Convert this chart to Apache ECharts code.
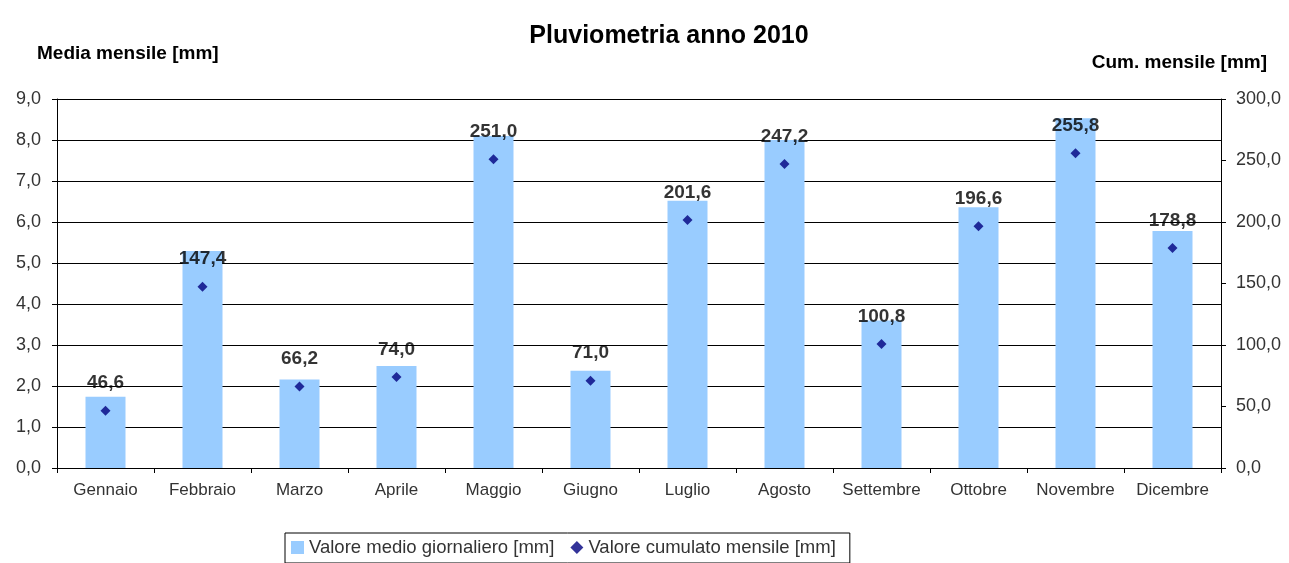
<!DOCTYPE html>
<html>
<head>
<meta charset="utf-8">
<script src="https://cdn.jsdelivr.net/npm/echarts@6/dist/echarts.min.js"></script>
<style>html,body{margin:0;padding:0;background:#fff}#c{width:1289px;height:563px}</style>
</head>
<body>
<div id="c"></div>
<script>
const months = ['Gennaio','Febbraio','Marzo','Aprile','Maggio','Giugno','Luglio','Agosto','Settembre','Ottobre','Novembre','Dicembre'];
const dailyMean = [1.74, 5.29, 2.16, 2.49, 8.10, 2.37, 6.52, 8.00, 3.60, 6.36, 8.53, 5.78];
const monthlyCum = [46.6, 147.4, 66.2, 74.0, 251.0, 71.0, 201.6, 247.2, 100.8, 196.6, 255.8, 178.8];

const fmt = v => Number(v).toFixed(1).replace('.', ',');
const font = '"Liberation Sans", Arial, sans-serif';

const chart = echarts.init(document.getElementById('c'), null, {renderer: 'canvas'});
chart.setOption({
  animation: false,
  textStyle: {fontFamily: font},
  title: [
    {text: 'Pluviometria anno 2010', left: 664, textAlign: 'center', top: 19,
     textStyle: {fontFamily: font, fontSize: 25, fontWeight: 'bold', color: '#000'}},
    {text: 'Media mensile [mm]', left: 32, top: 39,
     textStyle: {fontFamily: font, fontSize: 19, fontWeight: 'bold', color: '#000'}},
    {text: 'Cum. mensile [mm]', right: 17, top: 48,
     textStyle: {fontFamily: font, fontSize: 19, fontWeight: 'bold', color: '#000'}}
  ],
  legend: {
    left: 285, top: 533,
    borderColor: '#000', borderWidth: 1, borderRadius: 0,
    padding: [5, 14, 6, 6],
    itemGap: 16, itemWidth: 13, itemHeight: 13,
    textStyle: {fontFamily: font, fontSize: 18.5, color: '#333'},
    data: [
      {name: 'Valore medio giornaliero [mm]', icon: 'rect'},
      {name: 'Valore cumulato mensile [mm]', icon: 'diamond'}
    ]
  },
  grid: {left: 57, right: 68, top: 99, bottom: 95},
  xAxis: {
    type: 'category', data: months, boundaryGap: true,
    axisLine: {lineStyle: {color: '#000', width: 1}},
    axisTick: {show: true, length: 5, lineStyle: {color: '#000'}},
    axisLabel: {fontFamily: font, fontSize: 17, color: '#333', margin: 14, interval: 0}
  },
  yAxis: [
    {type: 'value', min: 0, max: 9, interval: 1,
     axisLine: {show: true, lineStyle: {color: '#000'}},
     axisTick: {show: true, length: 5, lineStyle: {color: '#000'}},
     axisLabel: {fontFamily: font, fontSize: 18, color: '#333', margin: 16, formatter: fmt},
     splitLine: {show: true, lineStyle: {color: '#000', width: 1}}},
    {type: 'value', min: 0, max: 300, interval: 50, position: 'right',
     axisLine: {show: true, lineStyle: {color: '#000'}},
     axisTick: {show: true, length: 5, lineStyle: {color: '#000'}},
     axisLabel: {fontFamily: font, fontSize: 18, color: '#333', margin: 15, formatter: fmt},
     splitLine: {show: false}}
  ],
  series: [
    {name: 'Valore medio giornaliero [mm]', type: 'bar', yAxisIndex: 0,
     data: dailyMean, barWidth: 40,
     itemStyle: {color: '#99ccff'}},
    {name: 'Valore cumulato mensile [mm]', type: 'scatter', yAxisIndex: 1,
     data: monthlyCum, symbol: 'diamond', symbolSize: 10,
     itemStyle: {color: '#000080'},
     label: {show: true, position: 'top', distance: 13,
       fontFamily: font, fontSize: 19, fontWeight: 'bold', color: '#000',
       formatter: p => fmt(p.value)}}
  ]
});
</script>
</body>
</html>
